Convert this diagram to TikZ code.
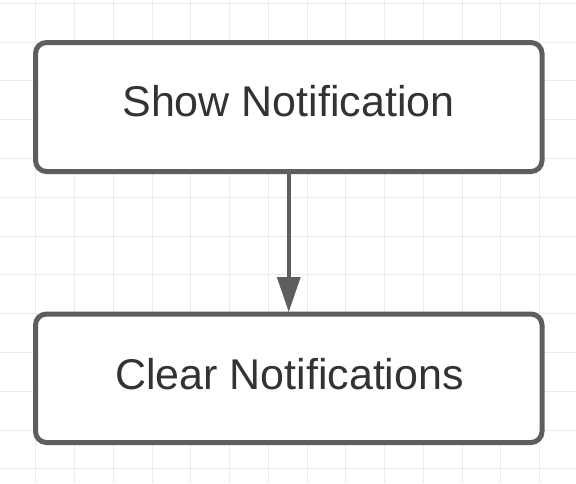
\documentclass[tikz,border=0pt]{standalone}
\usepackage{fontspec}
\setmainfont{Liberation Sans}
\usetikzlibrary{arrows.meta}
\definecolor{strokegray}{HTML}{5E5E5E}
\definecolor{textgray}{HTML}{333333}
\definecolor{gridgray}{HTML}{EBEBEB}
\tikzset{
  flowbox/.style={draw=strokegray, line width=5pt, fill=white, rounded corners=11pt,
    minimum width=506.5pt, inner sep=0pt},
  boxtext/.style={text=textgray, font=\fontsize{43}{50}\selectfont, anchor=base, inner sep=0pt},
  flowarrow/.style={draw=strokegray, line width=3.5pt, -{Triangle[length=35pt,width=23pt]}},
  gridline/.style={draw=gridgray, line width=1pt}
}
\begin{document}
\begin{tikzpicture}[x=1pt,y=-1pt]
\useasboundingbox (0,0) rectangle (576,483);
\fill[white] (0,0) rectangle (576,483);
% grid
\foreach \k in {0,...,13} {
  \draw[gridline] ({35.8+\k*38.76},0) -- ({35.8+\k*38.76},483);
}
\foreach \k in {0,...,12} {
  \draw[gridline] (0,{3.3+\k*38.8}) -- (576,{3.3+\k*38.8});
}
% boxes
\node[flowbox, minimum height=129pt] (show) at (288.75,107) {};
\node[flowbox, minimum height=128.5pt] (clear) at (288.75,378.25) {};
\node[boxtext] (showtext) at (288.5,116.5) {Show Notification};
\node[boxtext] (cleartext) at (289.5,389.3) {Clear Notifications};
% connector
\draw[flowarrow, shorten >=-0.5pt] (show.south) -- (clear.north);
\end{tikzpicture}
\end{document}
